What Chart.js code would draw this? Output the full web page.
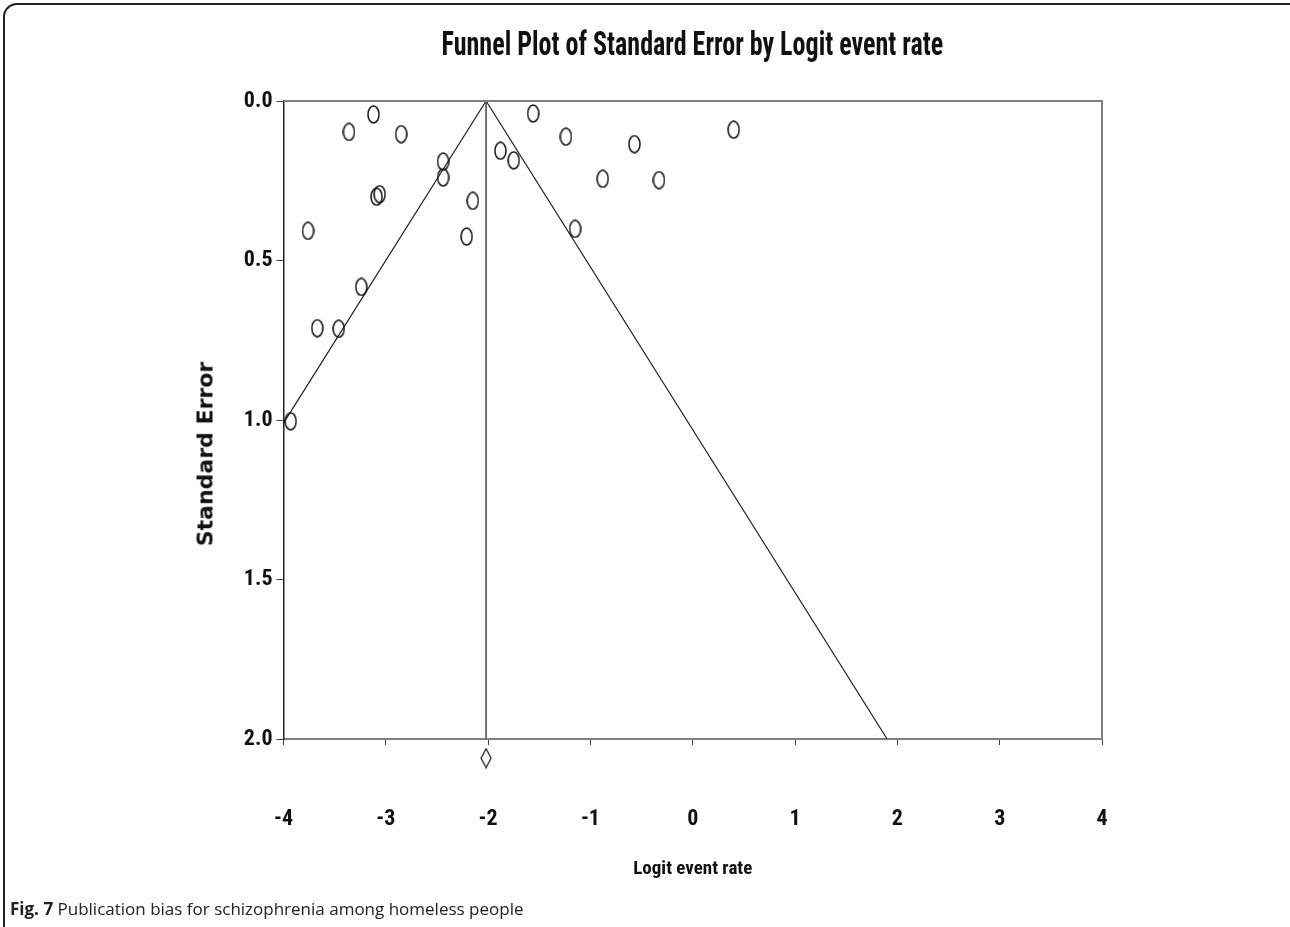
<!DOCTYPE html>
<html>
<head>
<meta charset="utf-8">
<script src="https://cdn.jsdelivr.net/npm/chart.js@4.4.0/dist/chart.umd.min.js"></script>
<style>
  html, body { margin: 0; padding: 0; background: #fff; }
  #wrap { position: relative; width: 1290px; height: 927px; overflow: hidden; }
  #frame { position: absolute; left: 3px; top: 3px; width: 1400px; height: 1100px;
           border-top: 2px solid #222; border-left: 2px solid #222; border-top-left-radius: 14px; }
  #chart { position: absolute; left: 0; top: 0; }
  #title { position: absolute; left: 283px; width: 819px; top: 23px; text-align: center;
           font-family: "Roboto Condensed", "Open Sans Condensed", sans-serif;
           font-weight: bold; font-size: 34px; color: #111; white-space: nowrap; }
  #title span { display: inline-block; transform: scaleX(0.766); transform-origin: center; }
  #ytitle { position: absolute; left: 205px; top: 454px; transform: translate(-50%, -50%) rotate(-90deg);
            font-family: "DejaVu Sans", sans-serif; font-weight: bold; font-size: 22px; color: #111;
            white-space: nowrap; }
  #caption { position: absolute; left: 10px; top: 897px; font-family: "Open Sans", sans-serif;
             font-size: 17px; color: #222; white-space: nowrap; }
  #caption b { font-weight: bold; }
</style>
</head>
<body>
<div id="wrap">
  <div id="frame"></div>
  <canvas id="chart" width="1290" height="927"></canvas>
  <div id="title"><span>Funnel Plot of Standard Error by Logit event rate</span></div>
  <div id="ytitle">Standard Error</div>
  <div id="caption"><b>Fig. 7</b> Publication bias for schizophrenia among homeless people</div>
</div>
<script>
// studies: logit event rate vs standard error
const logitRate = [-3.12, -3.36, -2.85, -2.44, -2.44, -3.06, -3.09, -2.15, -3.76, -2.21,
                   -3.24, -3.67, -3.46, -3.93,
                   -1.88, -1.75, -1.56, -1.24, -0.57, 0.40, -0.88, -0.33, -1.15];
const stdError = [0.042, 0.097, 0.104, 0.190, 0.240, 0.292, 0.300, 0.313, 0.407, 0.425,
                  0.583, 0.712, 0.714, 1.004,
                  0.156, 0.186, 0.039, 0.112, 0.135, 0.090, 0.244, 0.248, 0.401];

// pooled estimate and funnel limits
const pooledRate = -2.02;
const funnelX = [-4.0, -2.02, 1.90];
const funnelY = [1.01, 0.0, 2.0];
const pooledLineX = [pooledRate, pooledRate];
const pooledLineY = [0.0, 2.0];
const diamondY = [2.06];

const fontNarrow = '"Roboto Condensed", "Open Sans Condensed", sans-serif';

function ellipseMarker(w, h) {
    const c = document.createElement('canvas');
    c.width = w; c.height = h;
    const g = c.getContext('2d');
    g.strokeStyle = '#111';
    g.lineWidth = 1.5;
    g.beginPath();
    g.ellipse(w / 2, h / 2, w / 2 - 1, h / 2 - 1, 0, 0, Math.PI * 2);
    g.stroke();
    return c;
}

function diamondMarker(w, h) {
    const c = document.createElement('canvas');
    c.width = w; c.height = h;
    const g = c.getContext('2d');
    g.strokeStyle = '#111';
    g.lineWidth = 1.2;
    g.beginPath();
    g.moveTo(w / 2, 1);
    g.lineTo(w - 1, h / 2);
    g.lineTo(w / 2, h - 1);
    g.lineTo(1, h / 2);
    g.closePath();
    g.stroke();
    return c;
}

// frame on top and right of the plot
const plotFrame = {
    id: 'plotFrame',
    afterDraw(chart) {
        const {ctx, chartArea: a} = chart;
        ctx.save();
        ctx.strokeStyle = '#808080';
        ctx.lineWidth = 2;
        ctx.beginPath();
        ctx.moveTo(a.left, a.top);
        ctx.lineTo(a.right, a.top);
        ctx.lineTo(a.right, a.bottom);
        ctx.stroke();
        ctx.restore();
    }
};

const ctx = document.getElementById('chart');

new Chart(ctx, {
    type: 'scatter',
    data: {
        datasets: [{
            data: logitRate.map((x, i) => ({x: x, y: stdError[i]})),
            pointStyle: ellipseMarker(13, 19),
            pointRadius: 8,
            clip: false,
            order: 1
        }, {
            type: 'line',
            data: funnelX.map((x, i) => ({x: x, y: funnelY[i]})),
            borderColor: '#222',
            borderWidth: 1.2,
            pointRadius: 0,
            fill: false,
            order: 2
        }, {
            type: 'line',
            data: pooledLineX.map((x, i) => ({x: x, y: pooledLineY[i]})),
            borderColor: '#666',
            borderWidth: 1.8,
            pointRadius: 0,
            fill: false,
            order: 3
        }, {
            data: diamondY.map(y => ({x: pooledRate, y: y})),
            pointStyle: diamondMarker(12, 21),
            pointRadius: 26,
            hoverRadius: 26,
            clip: false,
            order: 0
        }]
    },
    options: {
        responsive: false,
        animation: false,
        layout: {
            padding: {top: 101, right: 188, left: 0, bottom: 0}
        },
        plugins: {
            legend: {display: false},
            tooltip: {enabled: false}
        },
        scales: {
            x: {
                type: 'linear',
                min: -4,
                max: 4,
                afterFit(scale) { scale.height = 188; },
                ticks: {
                    stepSize: 1,
                    padding: 61,
                    color: '#111',
                    font: {family: fontNarrow, weight: 'bold', size: 22}
                },
                grid: {drawOnChartArea: false, tickLength: 6, color: '#444'},
                border: {color: '#808080', width: 2},
                title: {
                    display: true,
                    text: 'Logit event rate',
                    color: '#111',
                    font: {family: fontNarrow, weight: 'bold', size: 19},
                    padding: {top: 0, bottom: 46}
                }
            },
            y: {
                type: 'linear',
                reverse: true,
                min: 0,
                max: 2,
                afterFit(scale) { scale.width = 283.5; },
                ticks: {
                    stepSize: 0.5,
                    padding: 4,
                    color: '#111',
                    font: {family: fontNarrow, weight: 'bold', size: 22},
                    callback: v => v.toFixed(1)
                },
                grid: {drawOnChartArea: false, tickLength: 7, color: '#444'},
                border: {color: '#222', width: 1.5}
            }
        }
    },
    plugins: [plotFrame]
});
</script>
</body>
</html>
